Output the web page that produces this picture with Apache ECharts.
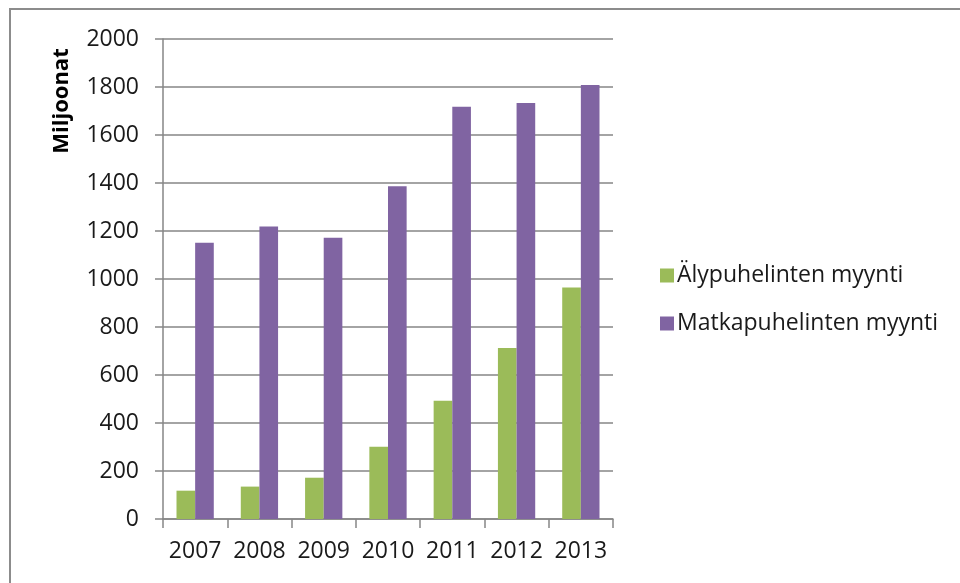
<!DOCTYPE html>
<html>
<head>
<meta charset="utf-8">
<script src="https://cdn.jsdelivr.net/npm/echarts@6/dist/echarts.min.js"></script>
<style>
  html, body { margin: 0; padding: 0; background: #fff; }
  #chart { width: 960px; height: 583px; }
</style>
</head>
<body>
<div id="chart"></div>
<script>
const years = ['2007', '2008', '2009', '2010', '2011', '2012', '2013'];
const smartphoneSales = [118, 135, 172, 301, 493, 712, 965];
const mobileSales = [1151, 1219, 1172, 1386, 1718, 1733, 1808];
const seriesNames = ['Älypuhelinten myynti', 'Matkapuhelinten myynti'];
const yTitle = 'Miljoonat';
const yTicks = { min: 0, max: 2000, interval: 200 };

const font = 'Open Sans, Liberation Sans, sans-serif';
const chart = echarts.init(document.getElementById('chart'));

chart.setOption({
  animation: false,
  backgroundColor: '#fff',
  graphic: [
    {
      // outer chart frame, only top and left edges are inside the picture
      type: 'rect',
      shape: { x: 10, y: 9, width: 2000, height: 2000 },
      style: { fill: 'none', stroke: '#8c8c8c', lineWidth: 2 },
      silent: true
    },
    {
      type: 'text',
      x: 62,
      y: 101,
      rotation: Math.PI / 2,
      style: {
        text: yTitle,
        font: 'bold 22px ' + font,
        fill: '#000',
        align: 'center',
        verticalAlign: 'middle'
      },
      silent: true
    }
  ],
  grid: { left: 163, right: 347, top: 39, bottom: 64 },
  legend: {
    orient: 'vertical',
    left: 655,
    top: 259,
    itemWidth: 14,
    itemHeight: 14,
    itemGap: 25,
    icon: 'rect',
    textStyle: { fontFamily: font, fontSize: 23, color: '#1a1a1a', padding: [0, 0, 0, -2] },
    data: seriesNames
  },
  xAxis: {
    type: 'category',
    data: years,
    boundaryGap: true,
    axisLine: { lineStyle: { color: '#868686', width: 1.5 } },
    axisTick: { show: true, length: 9, lineStyle: { color: '#868686', width: 1.5 } },
    axisLabel: { interval: 0, fontFamily: font, fontSize: 23, color: '#1a1a1a', margin: 21 }
  },
  yAxis: {
    type: 'value',
    min: yTicks.min,
    max: yTicks.max,
    interval: yTicks.interval,
    axisLine: { show: true, lineStyle: { color: '#868686', width: 1.5 } },
    axisTick: { show: true, length: 8, lineStyle: { color: '#868686', width: 1.5 } },
    axisLabel: {
      fontFamily: font, fontSize: 23, color: '#1a1a1a', margin: 24,
      formatter: (v) => String(v)
    },
    splitLine: { lineStyle: { color: '#868686', width: 1.5 } }
  },
  series: [
    {
      name: seriesNames[0],
      type: 'bar',
      data: smartphoneSales,
      barGap: '0%',
      barCategoryGap: '42%',
      itemStyle: { color: '#9bbb59' }
    },
    {
      name: seriesNames[1],
      type: 'bar',
      data: mobileSales,
      barGap: '0%',
      barCategoryGap: '42%',
      itemStyle: { color: '#8064a2' }
    }
  ]
});
</script>
</body>
</html>
